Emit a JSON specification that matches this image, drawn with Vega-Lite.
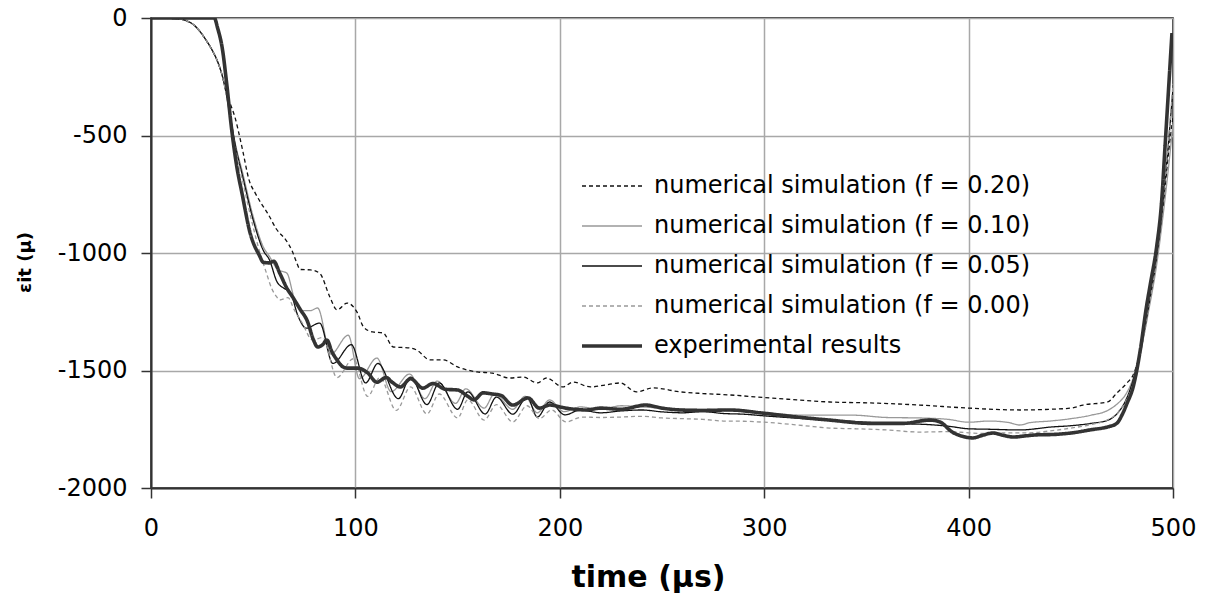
{
  "$schema": "https://vega.github.io/schema/vega-lite/v6.json",
  "width": 1022,
  "height": 470,
  "autosize": {"type": "none"},
  "padding": {"left": 151, "top": 18, "right": 35, "bottom": 108},
  "background": "#ffffff",
  "config": {
    "view": {"stroke": "#000000", "strokeWidth": 1.5},
    "font": "DejaVu Sans",
    "axis": {
      "labelFont": "DejaVu Sans", "labelFontSize": 24, "labelColor": "#000000",
      "domainColor": "#333333", "domainWidth": 2,
      "tickColor": "#333333", "tickWidth": 1.5, "tickSize": 10,
      "gridColor": "#a8a8a8", "gridWidth": 1.5,
      "titleFont": "DejaVu Sans", "titleFontWeight": "bold", "titleColor": "#000000"
    },
    "legend": {
      "labelFont": "DejaVu Sans", "labelFontSize": 24, "labelColor": "#000000", "labelLimit": 600
    }
  },
  "data": {"values": [
    {"s":"0.20","t":0,"e":0},{"s":"0.20","t":5,"e":0},{"s":"0.20","t":10,"e":-2},{"s":"0.20","t":15,"e":-6},{"s":"0.20","t":18,"e":-14},{"s":"0.20","t":21,"e":-30},{"s":"0.20","t":24,"e":-58},{"s":"0.20","t":27,"e":-95},{"s":"0.20","t":30,"e":-138},{"s":"0.20","t":33,"e":-195},{"s":"0.20","t":35,"e":-250},{"s":"0.20","t":37,"e":-320},{"s":"0.20","t":39,"e":-370},{"s":"0.20","t":41,"e":-420},{"s":"0.20","t":43.5,"e":-510},{"s":"0.20","t":45,"e":-570},{"s":"0.20","t":48,"e":-690},{"s":"0.20","t":51,"e":-745},{"s":"0.20","t":54,"e":-790},{"s":"0.20","t":57,"e":-830},{"s":"0.20","t":61.5,"e":-900},{"s":"0.20","t":66,"e":-945},{"s":"0.20","t":69,"e":-990},{"s":"0.20","t":71,"e":-1035},{"s":"0.20","t":73,"e":-1070},{"s":"0.20","t":78,"e":-1072},{"s":"0.20","t":82.5,"e":-1086},{"s":"0.20","t":87.5,"e":-1187},{"s":"0.20","t":91,"e":-1242},{"s":"0.20","t":96,"e":-1213},{"s":"0.20","t":101,"e":-1255},{"s":"0.20","t":104,"e":-1315},{"s":"0.20","t":108.5,"e":-1336},{"s":"0.20","t":113.5,"e":-1340},{"s":"0.20","t":118.5,"e":-1400},{"s":"0.20","t":126.5,"e":-1404},{"s":"0.20","t":130,"e":-1413},{"s":"0.20","t":136.5,"e":-1455},{"s":"0.20","t":143,"e":-1455},{"s":"0.20","t":150,"e":-1485},{"s":"0.20","t":159.5,"e":-1506},{"s":"0.20","t":167,"e":-1511},{"s":"0.20","t":175.5,"e":-1532},{"s":"0.20","t":182,"e":-1528},{"s":"0.20","t":189,"e":-1553},{"s":"0.20","t":193.5,"e":-1532},{"s":"0.20","t":201.5,"e":-1570},{"s":"0.20","t":206.5,"e":-1549},{"s":"0.20","t":215,"e":-1570},{"s":"0.20","t":222,"e":-1562},{"s":"0.20","t":229.5,"e":-1553},{"s":"0.20","t":237.5,"e":-1591},{"s":"0.20","t":245.5,"e":-1574},{"s":"0.20","t":259,"e":-1591},{"s":"0.20","t":270,"e":-1598},{"s":"0.20","t":283,"e":-1604},{"s":"0.20","t":303,"e":-1617},{"s":"0.20","t":316,"e":-1625},{"s":"0.20","t":332,"e":-1634},{"s":"0.20","t":352,"e":-1638},{"s":"0.20","t":376,"e":-1647},{"s":"0.20","t":400,"e":-1660},{"s":"0.20","t":425,"e":-1668},{"s":"0.20","t":440,"e":-1665},{"s":"0.20","t":450,"e":-1660},{"s":"0.20","t":456,"e":-1647},{"s":"0.20","t":468,"e":-1634},{"s":"0.20","t":472.5,"e":-1596},{"s":"0.20","t":477.5,"e":-1553},{"s":"0.20","t":480.5,"e":-1519},{"s":"0.20","t":484,"e":-1420},{"s":"0.20","t":488,"e":-1230},{"s":"0.20","t":492,"e":-1020},{"s":"0.20","t":495,"e":-820},{"s":"0.20","t":498,"e":-560},{"s":"0.20","t":500,"e":-420},

    {"s":"0.10","t":0,"e":0},{"s":"0.10","t":5,"e":0},{"s":"0.10","t":10,"e":-2},{"s":"0.10","t":15,"e":-6},{"s":"0.10","t":18,"e":-14},{"s":"0.10","t":21,"e":-30},{"s":"0.10","t":24,"e":-58},{"s":"0.10","t":27,"e":-95},{"s":"0.10","t":30,"e":-138},{"s":"0.10","t":33,"e":-195},{"s":"0.10","t":35,"e":-250},{"s":"0.10","t":37,"e":-330},{"s":"0.10","t":39,"e":-430},{"s":"0.10","t":41,"e":-525},{"s":"0.10","t":45,"e":-665},{"s":"0.10","t":50,"e":-845},{"s":"0.10","t":55,"e":-975},{"s":"0.10","t":58,"e":-1015},{"s":"0.10","t":62,"e":-1070},{"s":"0.10","t":66.5,"e":-1086},{"s":"0.10","t":70,"e":-1190},{"s":"0.10","t":74,"e":-1245},{"s":"0.10","t":78,"e":-1245},{"s":"0.10","t":81.5,"e":-1234},{"s":"0.10","t":88,"e":-1430},{"s":"0.10","t":96.5,"e":-1350},{"s":"0.10","t":102,"e":-1535},{"s":"0.10","t":110.5,"e":-1447},{"s":"0.10","t":117.5,"e":-1590},{"s":"0.10","t":126.5,"e":-1515},{"s":"0.10","t":134,"e":-1620},{"s":"0.10","t":140,"e":-1545},{"s":"0.10","t":149,"e":-1640},{"s":"0.10","t":154,"e":-1578},{"s":"0.10","t":163,"e":-1660},{"s":"0.10","t":168,"e":-1600},{"s":"0.10","t":177,"e":-1665},{"s":"0.10","t":183,"e":-1610},{"s":"0.10","t":189,"e":-1680},{"s":"0.10","t":195,"e":-1625},{"s":"0.10","t":202,"e":-1675},{"s":"0.10","t":210,"e":-1655},{"s":"0.10","t":220,"e":-1665},{"s":"0.10","t":230,"e":-1650},{"s":"0.10","t":240,"e":-1655},{"s":"0.10","t":250,"e":-1660},{"s":"0.10","t":260,"e":-1665},{"s":"0.10","t":270,"e":-1665},{"s":"0.10","t":280,"e":-1670},{"s":"0.10","t":290,"e":-1672},{"s":"0.10","t":300,"e":-1680},{"s":"0.10","t":320,"e":-1690},{"s":"0.10","t":343,"e":-1690},{"s":"0.10","t":360,"e":-1700},{"s":"0.10","t":376,"e":-1702},{"s":"0.10","t":390,"e":-1708},{"s":"0.10","t":400,"e":-1720},{"s":"0.10","t":410,"e":-1715},{"s":"0.10","t":420,"e":-1722},{"s":"0.10","t":425,"e":-1732},{"s":"0.10","t":430,"e":-1722},{"s":"0.10","t":440,"e":-1715},{"s":"0.10","t":450,"e":-1705},{"s":"0.10","t":460,"e":-1690},{"s":"0.10","t":468,"e":-1670},{"s":"0.10","t":473,"e":-1640},{"s":"0.10","t":477,"e":-1600},{"s":"0.10","t":480,"e":-1545},{"s":"0.10","t":484,"e":-1425},{"s":"0.10","t":488,"e":-1250},{"s":"0.10","t":492,"e":-1050},{"s":"0.10","t":495,"e":-850},{"s":"0.10","t":498,"e":-620},{"s":"0.10","t":500,"e":-450},

    {"s":"0.05","t":0,"e":0},{"s":"0.05","t":5,"e":0},{"s":"0.05","t":10,"e":-2},{"s":"0.05","t":15,"e":-6},{"s":"0.05","t":18,"e":-14},{"s":"0.05","t":21,"e":-30},{"s":"0.05","t":24,"e":-58},{"s":"0.05","t":27,"e":-95},{"s":"0.05","t":30,"e":-138},{"s":"0.05","t":33,"e":-195},{"s":"0.05","t":35,"e":-250},{"s":"0.05","t":37,"e":-330},{"s":"0.05","t":39,"e":-430},{"s":"0.05","t":41,"e":-530},{"s":"0.05","t":45,"e":-680},{"s":"0.05","t":50,"e":-860},{"s":"0.05","t":55,"e":-990},{"s":"0.05","t":58,"e":-1030},{"s":"0.05","t":61.5,"e":-1120},{"s":"0.05","t":65,"e":-1150},{"s":"0.05","t":68,"e":-1165},{"s":"0.05","t":72,"e":-1270},{"s":"0.05","t":76,"e":-1320},{"s":"0.05","t":82.5,"e":-1298},{"s":"0.05","t":89,"e":-1470},{"s":"0.05","t":98,"e":-1390},{"s":"0.05","t":105,"e":-1553},{"s":"0.05","t":111,"e":-1470},{"s":"0.05","t":121,"e":-1620},{"s":"0.05","t":127,"e":-1528},{"s":"0.05","t":135,"e":-1645},{"s":"0.05","t":141,"e":-1553},{"s":"0.05","t":150,"e":-1665},{"s":"0.05","t":155,"e":-1591},{"s":"0.05","t":163.5,"e":-1685},{"s":"0.05","t":169,"e":-1613},{"s":"0.05","t":177,"e":-1686},{"s":"0.05","t":184,"e":-1613},{"s":"0.05","t":189,"e":-1698},{"s":"0.05","t":195,"e":-1634},{"s":"0.05","t":202.5,"e":-1689},{"s":"0.05","t":210,"e":-1668},{"s":"0.05","t":220,"e":-1680},{"s":"0.05","t":230,"e":-1672},{"s":"0.05","t":240,"e":-1668},{"s":"0.05","t":250,"e":-1676},{"s":"0.05","t":260,"e":-1680},{"s":"0.05","t":270,"e":-1675},{"s":"0.05","t":280,"e":-1683},{"s":"0.05","t":290,"e":-1686},{"s":"0.05","t":300,"e":-1693},{"s":"0.05","t":320,"e":-1705},{"s":"0.05","t":340,"e":-1715},{"s":"0.05","t":360,"e":-1725},{"s":"0.05","t":380,"e":-1730},{"s":"0.05","t":390,"e":-1737},{"s":"0.05","t":400,"e":-1748},{"s":"0.05","t":410,"e":-1750},{"s":"0.05","t":425,"e":-1753},{"s":"0.05","t":441,"e":-1740},{"s":"0.05","t":450,"e":-1735},{"s":"0.05","t":460,"e":-1725},{"s":"0.05","t":468,"e":-1712},{"s":"0.05","t":473,"e":-1680},{"s":"0.05","t":477,"e":-1625},{"s":"0.05","t":480,"e":-1555},{"s":"0.05","t":484,"e":-1415},{"s":"0.05","t":488,"e":-1230},{"s":"0.05","t":492,"e":-1010},{"s":"0.05","t":495,"e":-790},{"s":"0.05","t":497.5,"e":-560},{"s":"0.05","t":500,"e":-300},

    {"s":"0.00","t":0,"e":0},{"s":"0.00","t":5,"e":0},{"s":"0.00","t":10,"e":-2},{"s":"0.00","t":15,"e":-6},{"s":"0.00","t":18,"e":-14},{"s":"0.00","t":21,"e":-30},{"s":"0.00","t":24,"e":-58},{"s":"0.00","t":27,"e":-95},{"s":"0.00","t":30,"e":-138},{"s":"0.00","t":33,"e":-195},{"s":"0.00","t":35,"e":-250},{"s":"0.00","t":37,"e":-335},{"s":"0.00","t":39,"e":-440},{"s":"0.00","t":41,"e":-540},{"s":"0.00","t":45,"e":-700},{"s":"0.00","t":50,"e":-890},{"s":"0.00","t":53,"e":-990},{"s":"0.00","t":56.5,"e":-1086},{"s":"0.00","t":59,"e":-1150},{"s":"0.00","t":61.5,"e":-1187},{"s":"0.00","t":63,"e":-1200},{"s":"0.00","t":67,"e":-1190},{"s":"0.00","t":70,"e":-1240},{"s":"0.00","t":74,"e":-1298},{"s":"0.00","t":79,"e":-1370},{"s":"0.00","t":84,"e":-1360},{"s":"0.00","t":91,"e":-1530},{"s":"0.00","t":99,"e":-1450},{"s":"0.00","t":106,"e":-1610},{"s":"0.00","t":112,"e":-1530},{"s":"0.00","t":120,"e":-1670},{"s":"0.00","t":127,"e":-1570},{"s":"0.00","t":135,"e":-1685},{"s":"0.00","t":141,"e":-1600},{"s":"0.00","t":150,"e":-1702},{"s":"0.00","t":155,"e":-1625},{"s":"0.00","t":163,"e":-1711},{"s":"0.00","t":169,"e":-1645},{"s":"0.00","t":177,"e":-1719},{"s":"0.00","t":184,"e":-1650},{"s":"0.00","t":190,"e":-1705},{"s":"0.00","t":196,"e":-1668},{"s":"0.00","t":203,"e":-1719},{"s":"0.00","t":211,"e":-1698},{"s":"0.00","t":220,"e":-1700},{"s":"0.00","t":230,"e":-1698},{"s":"0.00","t":240,"e":-1695},{"s":"0.00","t":250,"e":-1702},{"s":"0.00","t":260,"e":-1705},{"s":"0.00","t":270,"e":-1708},{"s":"0.00","t":280,"e":-1715},{"s":"0.00","t":290,"e":-1716},{"s":"0.00","t":300,"e":-1720},{"s":"0.00","t":320,"e":-1735},{"s":"0.00","t":332,"e":-1745},{"s":"0.00","t":345,"e":-1748},{"s":"0.00","t":360,"e":-1753},{"s":"0.00","t":376,"e":-1762},{"s":"0.00","t":390,"e":-1760},{"s":"0.00","t":400,"e":-1765},{"s":"0.00","t":407,"e":-1768},{"s":"0.00","t":420,"e":-1765},{"s":"0.00","t":430,"e":-1765},{"s":"0.00","t":440,"e":-1757},{"s":"0.00","t":450,"e":-1745},{"s":"0.00","t":460,"e":-1730},{"s":"0.00","t":468,"e":-1710},{"s":"0.00","t":473,"e":-1680},{"s":"0.00","t":477,"e":-1630},{"s":"0.00","t":480,"e":-1570},{"s":"0.00","t":484,"e":-1430},{"s":"0.00","t":488,"e":-1240},{"s":"0.00","t":492,"e":-1020},{"s":"0.00","t":495,"e":-780},{"s":"0.00","t":498,"e":-500},{"s":"0.00","t":500,"e":-280},

    {"s":"exp","t":0,"e":0},{"s":"exp","t":31,"e":0},{"s":"exp","t":32.5,"e":-40},{"s":"exp","t":35,"e":-136},{"s":"exp","t":37,"e":-277},{"s":"exp","t":39.5,"e":-477},{"s":"exp","t":42,"e":-634},{"s":"exp","t":44.5,"e":-745},{"s":"exp","t":48.5,"e":-915},{"s":"exp","t":53,"e":-1010},{"s":"exp","t":55,"e":-1040},{"s":"exp","t":58,"e":-1042},{"s":"exp","t":60,"e":-1035},{"s":"exp","t":63,"e":-1086},{"s":"exp","t":66.5,"e":-1150},{"s":"exp","t":69.5,"e":-1190},{"s":"exp","t":73,"e":-1240},{"s":"exp","t":76.5,"e":-1290},{"s":"exp","t":79.5,"e":-1370},{"s":"exp","t":81.5,"e":-1400},{"s":"exp","t":84,"e":-1390},{"s":"exp","t":86,"e":-1370},{"s":"exp","t":88.5,"e":-1420},{"s":"exp","t":91,"e":-1455},{"s":"exp","t":94,"e":-1485},{"s":"exp","t":96,"e":-1490},{"s":"exp","t":101,"e":-1490},{"s":"exp","t":106,"e":-1510},{"s":"exp","t":110.5,"e":-1550},{"s":"exp","t":115,"e":-1530},{"s":"exp","t":118,"e":-1550},{"s":"exp","t":122,"e":-1570},{"s":"exp","t":127,"e":-1535},{"s":"exp","t":133,"e":-1575},{"s":"exp","t":138,"e":-1555},{"s":"exp","t":144,"e":-1580},{"s":"exp","t":150,"e":-1583},{"s":"exp","t":155,"e":-1610},{"s":"exp","t":158,"e":-1625},{"s":"exp","t":162.5,"e":-1595},{"s":"exp","t":167,"e":-1600},{"s":"exp","t":171,"e":-1605},{"s":"exp","t":177,"e":-1647},{"s":"exp","t":184.5,"e":-1617},{"s":"exp","t":190,"e":-1660},{"s":"exp","t":195,"e":-1647},{"s":"exp","t":203,"e":-1660},{"s":"exp","t":213,"e":-1668},{"s":"exp","t":220,"e":-1660},{"s":"exp","t":230,"e":-1665},{"s":"exp","t":242,"e":-1647},{"s":"exp","t":250,"e":-1660},{"s":"exp","t":259,"e":-1668},{"s":"exp","t":270,"e":-1670},{"s":"exp","t":283,"e":-1668},{"s":"exp","t":299,"e":-1681},{"s":"exp","t":316,"e":-1698},{"s":"exp","t":332,"e":-1711},{"s":"exp","t":352,"e":-1725},{"s":"exp","t":368,"e":-1725},{"s":"exp","t":381,"e":-1711},{"s":"exp","t":386,"e":-1719},{"s":"exp","t":392,"e":-1762},{"s":"exp","t":397,"e":-1780},{"s":"exp","t":402,"e":-1787},{"s":"exp","t":407,"e":-1775},{"s":"exp","t":412,"e":-1766},{"s":"exp","t":417,"e":-1776},{"s":"exp","t":422,"e":-1783},{"s":"exp","t":428,"e":-1778},{"s":"exp","t":433,"e":-1774},{"s":"exp","t":442,"e":-1772},{"s":"exp","t":450,"e":-1766},{"s":"exp","t":460,"e":-1752},{"s":"exp","t":468,"e":-1740},{"s":"exp","t":472.5,"e":-1725},{"s":"exp","t":475,"e":-1690},{"s":"exp","t":477.5,"e":-1640},{"s":"exp","t":480.5,"e":-1570},{"s":"exp","t":484,"e":-1413},{"s":"exp","t":487,"e":-1230},{"s":"exp","t":489,"e":-1128},{"s":"exp","t":492,"e":-974},{"s":"exp","t":494.5,"e":-774},{"s":"exp","t":496,"e":-562},{"s":"exp","t":497.5,"e":-349},{"s":"exp","t":499.5,"e":-64}
  ]},
  "encoding": {
    "x": {"field": "t", "type": "quantitative",
      "scale": {"domain": [0, 500], "nice": false, "zero": false},
      "axis": {"values": [0, 100, 200, 300, 400, 500], "title": "time (μs)", "titleFontSize": 30,
        "labelPadding": 18, "labelFlush": false, "titleX": 497, "titleY": 89, "titleBaseline": "middle", "titleAlign": "center",
        "labelExpr": "'' + datum.value"}},
    "y": {"field": "e", "type": "quantitative",
      "scale": {"domain": [-2000, 0], "nice": false, "zero": false},
      "axis": {"values": [0, -500, -1000, -1500, -2000], "title": "εit (μ)", "titleFontSize": 18,
        "labelPadding": 14, "labelFlush": false, "titleX": -126, "titleY": 244, "titleAngle": -90, "titleBaseline": "middle", "titleAlign": "center",
        "labelExpr": "'' + datum.value"}},
    "color": {"field": "s", "type": "nominal",
      "scale": {"domain": ["0.20", "0.10", "0.05", "0.00", "exp"], "range": ["#111111", "#999999", "#111111", "#999999", "#333333"]},
      "legend": {"title": null, "orient": "none", "legendX": 449, "legendY": 156,
        "symbolType": "stroke", "symbolSize": 3600, "labelOffset": 30, "rowPadding": 16, "labelLimit": 600,
        "labelExpr": "datum.value == 'exp' ? 'experimental results' : 'numerical simulation (f = ' + datum.value + ')'",
        "encode": {"symbols": {"update": {
          "strokeWidth": {"signal": "datum.value == 'exp' ? 3.6 : 1.3"},
          "strokeDash": {"signal": "(datum.value == '0.20' || datum.value == '0.00') ? [4, 3] : [1, 0]"}}}}}},
    "strokeDash": {"field": "s", "type": "nominal",
      "scale": {"domain": ["0.20", "0.10", "0.05", "0.00", "exp"], "range": [[4, 3], [1, 0], [1, 0], [4, 3], [1, 0]]},
      "legend": null}
  },
  "layer": [
    {"transform": [{"filter": "datum.s != 'exp'"}],
     "mark": {"type": "line", "interpolate": "monotone", "clip": true, "strokeWidth": 1.3}},
    {"transform": [{"filter": "datum.s == 'exp'"}],
     "mark": {"type": "line", "interpolate": "monotone", "clip": true, "strokeWidth": 3.6}}
  ]
}
